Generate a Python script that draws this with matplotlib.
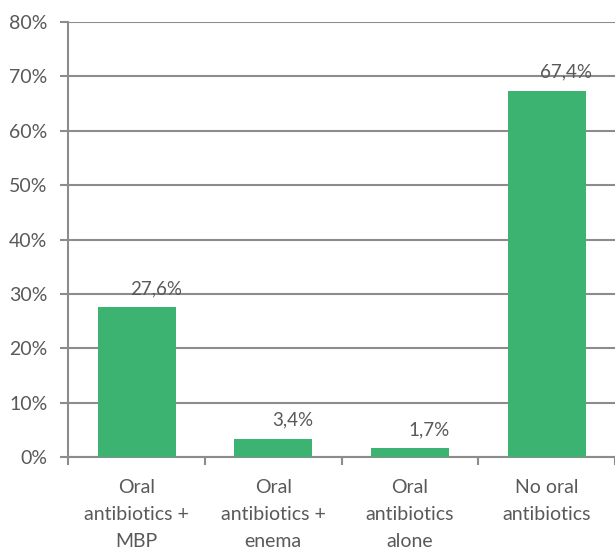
import matplotlib.pyplot as plt
import numpy as np

plt.rcParams['font.family'] = ['Lato', 'DejaVu Sans']

categories = ["Oral\nantibiotics +\nMBP", "Oral\nantibiotics +\nenema",
              "Oral\nantibiotics\nalone", "No oral\nantibiotics"]
values = [27.6, 3.4, 1.7, 67.4]
value_labels = ["27,6%", "3,4%", "1,7%", "67,4%"]
yticks = [0, 10, 20, 30, 40, 50, 60, 70, 80]

grey = "#8c8c8c"
textc = "#595959"

fig = plt.figure(figsize=(6.15, 5.47), dpi=100)
ax = fig.add_axes([0.111, 0.1645, 0.889, 0.7953])

x = np.arange(len(categories))
ax.bar(x, values, width=0.57, color="#3cb371", zorder=3)

for xi, v, lab in zip(x, values, value_labels):
    ax.annotate(lab, (xi, v), xytext=(14, 7), textcoords="offset points",
                ha="center", va="bottom", fontsize=13.5, color=textc)

ax.set_xlim(-0.5, 3.5)
ax.set_ylim(0, 80)
ax.set_yticks(yticks)
ax.set_yticklabels([f"{t}%" for t in yticks], fontsize=14, color=textc)
ax.set_xticks(x)
ax.set_xticklabels(categories, fontsize=14, color=textc, linespacing=1.7)
ax.set_xticks(np.arange(-0.5, 4, 1), minor=True)
ax.tick_params(axis="x", which="major", length=0, pad=16)
ax.tick_params(axis="x", which="minor", length=6, width=1.5, color=grey)
ax.tick_params(axis="y", length=6, width=1.5, color=grey, pad=9)

ax.grid(axis="y", color=grey, linewidth=1.5, zorder=0)
for s in ["top", "right"]:
    ax.spines[s].set_visible(False)
for s in ["left", "bottom"]:
    ax.spines[s].set_color(grey)
    ax.spines[s].set_linewidth(1.5)

fig.savefig("out.png", dpi=100)
